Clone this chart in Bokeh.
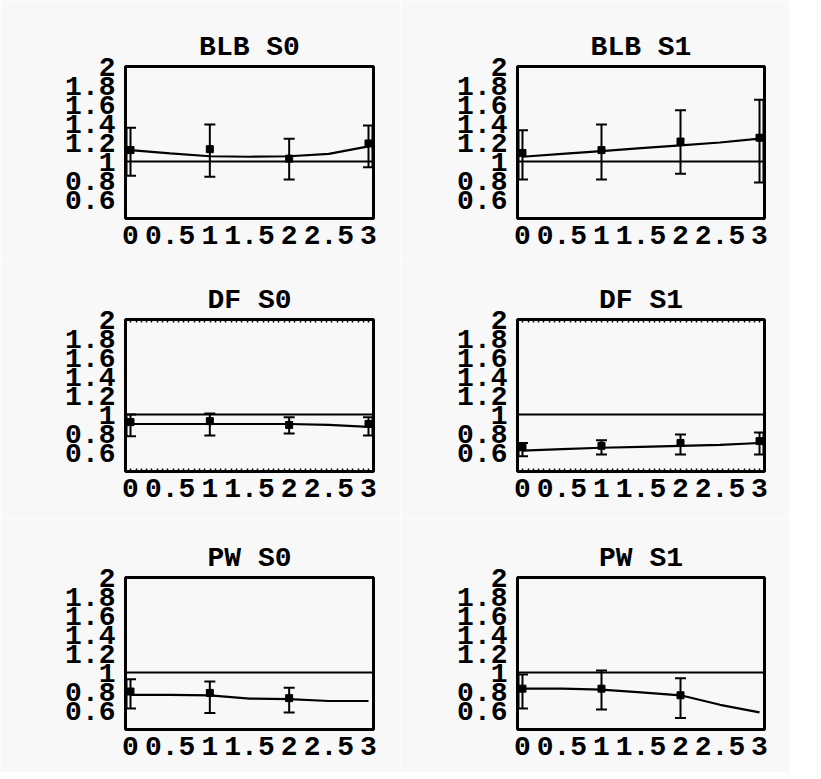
import numpy as np
from bokeh.plotting import figure
from bokeh.models import (ColumnDataSource, Whisker, TeeHead, FixedTicker, Range1d,
                          Span, LinearAxis)
from bokeh.layouts import column, row
from bokeh.embed import file_html
from bokeh.resources import INLINE

# ---------------- data ----------------
visits = [0, 1, 2, 3]
fit_x = [0, 0.5, 1, 1.5, 2, 2.5, 3]
x_ticks = [0, 0.5, 1, 1.5, 2, 2.5, 3]
x_tick_labels = ["0", "0.5", "1", "1.5", "2", "2.5", "3"]
y_ticks = [0.6, 0.8, 1, 1.2, 1.4, 1.6, 1.8, 2]
y_tick_labels = ["0.6", "0.8", "1", "1.2", "1.4", "1.6", "1.8", "2"]
reference_level = 1.0

titles = ["BLB S0", "BLB S1", "DF S0", "DF S1", "PW S0", "PW S1"]

blb_s0_mean = [1.12, 1.13, 1.03, 1.19]
blb_s0_low = [0.85, 0.84, 0.81, 0.94]
blb_s0_high = [1.355, 1.39, 1.24, 1.38]
blb_s0_fit = [1.12, 1.085, 1.055, 1.05, 1.055, 1.08, 1.16]

blb_s1_mean = [1.09, 1.12, 1.21, 1.25]
blb_s1_low = [0.81, 0.81, 0.87, 0.78]
blb_s1_high = [1.33, 1.39, 1.54, 1.65]
blb_s1_fit = [1.05, 1.08, 1.11, 1.14, 1.17, 1.20, 1.24]

df_s0_mean = [0.92, 0.93, 0.89, 0.90]
df_s0_low = [0.77, 0.78, 0.80, 0.78]
df_s0_high = [1.0, 1.01, 0.97, 0.97]
df_s0_fit = [0.90, 0.90, 0.90, 0.90, 0.90, 0.89, 0.87]

df_s1_mean = [0.655, 0.67, 0.70, 0.72]
df_s1_low = [0.56, 0.58, 0.58, 0.58]
df_s1_high = [0.70, 0.73, 0.79, 0.81]
df_s1_fit = [0.62, 0.635, 0.65, 0.66, 0.67, 0.68, 0.70]

pw_s0_mean = [0.80, 0.785, 0.73, 0.23]
pw_s0_low = [0.62, 0.575, 0.58, float("nan")]
pw_s0_high = [0.93, 0.905, 0.84, float("nan")]
pw_s0_fit = [0.765, 0.765, 0.76, 0.725, 0.72, 0.70, 0.70]

pw_s1_mean = [0.83, 0.83, 0.76, 0.11]
pw_s1_low = [0.62, 0.61, 0.52, float("nan")]
pw_s1_high = [0.98, 1.02, 0.94, float("nan")]
pw_s1_fit = [0.83, 0.83, 0.82, 0.79, 0.76, 0.66, 0.58]

panels = [
    (blb_s0_mean, blb_s0_low, blb_s0_high, blb_s0_fit),
    (blb_s1_mean, blb_s1_low, blb_s1_high, blb_s1_fit),
    (df_s0_mean, df_s0_low, df_s0_high, df_s0_fit),
    (df_s1_mean, df_s1_low, df_s1_high, df_s1_fit),
    (pw_s0_mean, pw_s0_low, pw_s0_high, pw_s0_fit),
    (pw_s1_mean, pw_s1_low, pw_s1_high, pw_s1_fit),
]

# ---------------- style ----------------
BG = "#f8f8f8"
FONT = "Liberation Mono"
X_RANGE = (-0.063, 3.063)
Y_RANGE = (0.4, 2.0)
EDGE_OFF = 0.05


def make_panel(title, mean, low, high, fit, dotted, left_b, right_b, top_b, bottom_b, fw, fh):
    p = figure(width=left_b + fw + right_b, height=top_b + fh + bottom_b,
               frame_width=fw, frame_height=fh,
               min_border_left=left_b, min_border_right=right_b,
               min_border_top=top_b, min_border_bottom=bottom_b,
               x_range=Range1d(*X_RANGE), y_range=Range1d(*Y_RANGE),
               output_backend="svg", toolbar_location=None, title=title)
    p.background_fill_color = BG
    p.border_fill_color = BG
    p.outline_line_color = "black"
    p.outline_line_width = 3
    p.grid.visible = False

    p.title.text_font = FONT
    p.title.text_font_style = "bold"
    p.title.text_font_size = "28px"
    p.title.align = "center"
    p.title.text_color = "black"
    p.title.standoff = 7

    minor = list(np.arange(X_RANGE[0], X_RANGE[1], 1 / 15.0)) if dotted else []
    p.xaxis.ticker = FixedTicker(ticks=x_ticks, minor_ticks=minor)
    p.xaxis.major_label_overrides = {t: l for t, l in zip(x_ticks, x_tick_labels)}
    p.yaxis.ticker = FixedTicker(ticks=y_ticks)
    p.yaxis.major_label_overrides = {t: l for t, l in zip(y_ticks, y_tick_labels)}
    for ax in (p.xaxis[0], p.yaxis[0]):
        ax.axis_line_color = None
        ax.major_tick_line_color = None
        ax.major_label_text_font = FONT
        ax.major_label_text_font_style = "bold"
        ax.major_label_text_font_size = "28px"
        ax.major_label_text_color = "black"
    p.xaxis.major_label_standoff = 1
    p.yaxis.major_label_standoff = 4
    p.yaxis.minor_tick_line_color = None
    if dotted:
        p.xaxis.minor_tick_in = 3
        p.xaxis.minor_tick_out = 0
        p.xaxis.minor_tick_line_color = "black"
        p.xaxis.minor_tick_line_width = 1.5
        top = LinearAxis(ticker=FixedTicker(ticks=[], minor_ticks=minor),
                         axis_line_color=None, major_tick_line_color=None,
                         major_label_text_font_size="0px", major_label_standoff=0,
                         minor_tick_in=3, minor_tick_out=0, minor_tick_line_width=1.5,
                         minor_tick_line_color="black")
        p.add_layout(top, "above")
    else:
        p.xaxis.minor_tick_line_color = None

    # reference line
    p.add_layout(Span(location=reference_level, dimension="width",
                      line_color="black", line_width=2))
    # fitted line
    p.line(fit_x, fit, line_color="black", line_width=2.2)

    valid = [i for i in range(len(visits)) if not np.isnan(low[i])]
    src = ColumnDataSource(dict(x=[visits[i] for i in valid], lo=[low[i] for i in valid],
                                hi=[high[i] for i in valid]))
    p.add_layout(Whisker(source=src, base="x", lower="lo", upper="hi", dimension="height",
                         line_color="black", line_width=2,
                         lower_head=TeeHead(size=11, line_width=2, line_color="black"),
                         upper_head=TeeHead(size=11, line_width=2, line_color="black")))
    # doubled bars at the end visits
    ends = [i for i in valid if visits[i] in (visits[0], visits[-1])]
    esrc = ColumnDataSource(dict(
        x=[visits[i] + (-EDGE_OFF if visits[i] == visits[0] else EDGE_OFF) for i in ends],
        lo=[low[i] for i in ends], hi=[high[i] for i in ends]))
    p.add_layout(Whisker(source=esrc, base="x", lower="lo", upper="hi", dimension="height",
                         line_color="black", line_width=2, lower_head=None, upper_head=None))

    p.scatter(visits, mean, marker="square", size=7, color="black")
    return p


figs = []
for k, (title, data) in enumerate(zip(titles, panels)):
    r, c = divmod(k, 2)
    dotted = (r == 1)
    left_b = 125 if c == 0 else 117
    right_b = 27 if c == 0 else 25
    fw = 248 if c == 0 else 247
    top_b = 66 if r == 0 else 58
    bottom_b = 48 if r == 1 else 43
    figs.append(make_panel(title, *data, dotted, left_b, right_b, top_b, bottom_b, fw, 152))

layout = column(row(figs[0], figs[1]), row(figs[2], figs[3]), row(figs[4], figs[5]))

html = file_html(layout, INLINE)
html = html.replace("<body>", '<body style="background-color:#f8f8f8;">', 1)
open("out.html", "w").write(html)
